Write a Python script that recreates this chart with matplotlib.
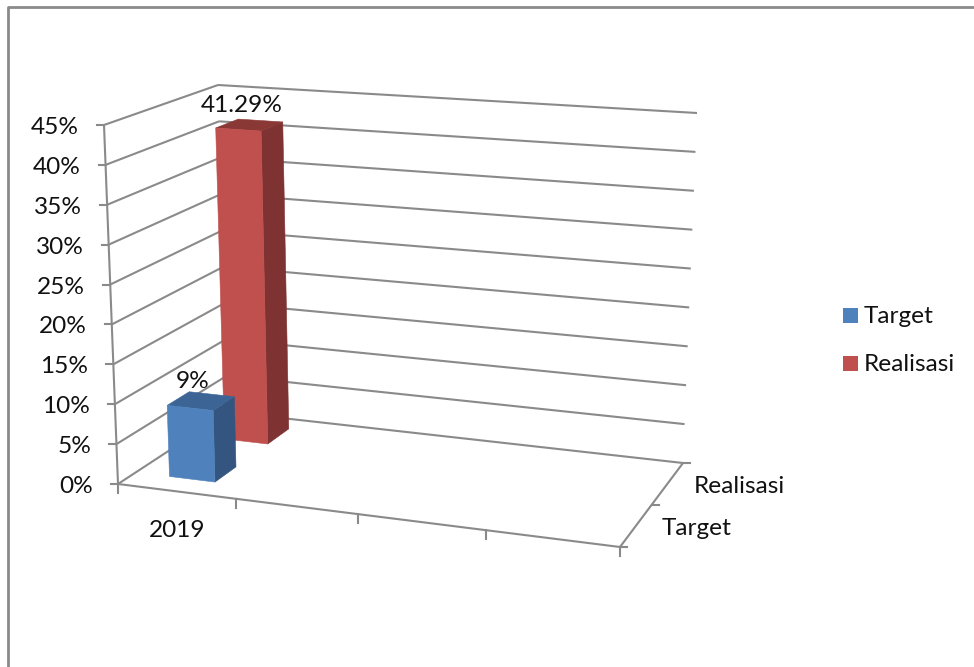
"""Excel-style 3-D column chart of Target vs Realisasi for 2019."""

from __future__ import annotations

import matplotlib

matplotlib.use("Agg")
import matplotlib.pyplot as plt
import numpy as np
from matplotlib.patches import Polygon, Rectangle

CATEGORY_LABELS = ["2019"]
CATEGORY_TICKS = [0.235, 0.478, 0.733, 1.0]
SERIES_NAMES = ["Target", "Realisasi"]
SERIES_VALUES = [9, 41.29]
VALUE_TICKS = [0, 5, 10, 15, 20, 25, 30, 35, 40, 45]

BAR_CENTER = 0.114
BAR_WIDTH = 0.092
BAR_DEPTH = 0.205
SERIES_DEPTHS = [0.265, 0.78]

FRONT_COLORS = ["#4f81bd", "#c0504d"]
SIDE_COLORS = ["#34557f", "#7e3231"]
TOP_COLORS = ["#3c6595", "#893835"]
AXIS_COLOR = "#8a8a8a"
TEXT_COLOR = "#111111"
FONT_SIZE = 17.6

# Pixel positions of the plot box corners, (width, depth) -> (floor, ceiling)
CORNERS = {
    (0, 0): ((118, 484), (104, 125)),
    (1, 0): ((620, 547), (634, 164)),
    (0, 1): ((228, 412), (218, 85)),
    (1, 1): ((683, 463), (697, 113)),
}


def project(x: float, d: float, v: float) -> tuple[float, float]:
    """Map width fraction, depth fraction and percent value onto the canvas."""
    t = v / VALUE_TICKS[-1]
    out = np.zeros(2)
    for (cx, cd), (floor, ceil) in CORNERS.items():
        weight = (x if cx else 1 - x) * (d if cd else 1 - d)
        out += weight * ((1 - t) * np.array(floor) + t * np.array(ceil))
    return float(out[0]), float(out[1])


def line3d(ax: plt.Axes, a: tuple, b: tuple, lw: float = 1.5) -> None:
    p, q = project(*a), project(*b)
    ax.plot([p[0], q[0]], [p[1], q[1]], color=AXIS_COLOR, lw=lw, solid_capstyle="butt", zorder=2)


def draw_bar(ax: plt.Axes, idx: int) -> None:
    value = SERIES_VALUES[idx]
    x0, x1 = BAR_CENTER - BAR_WIDTH / 2, BAR_CENTER + BAR_WIDTH / 2
    d0, d1 = SERIES_DEPTHS[idx] - BAR_DEPTH / 2, SERIES_DEPTHS[idx] + BAR_DEPTH / 2
    zorder = 6 - idx

    front = [project(x0, d0, 0), project(x1, d0, 0), project(x1, d0, value), project(x0, d0, value)]
    side = [project(x1, d0, 0), project(x1, d1, 0), project(x1, d1, value), project(x1, d0, value)]
    top = [project(x0, d0, value), project(x1, d0, value), project(x1, d1, value), project(x0, d1, value)]
    for pts, color in ((side, SIDE_COLORS[idx]), (top, TOP_COLORS[idx]), (front, FRONT_COLORS[idx])):
        ax.add_patch(Polygon(pts, closed=True, fc=color, ec=color, lw=0.4, zorder=zorder))

    label_x, label_y = project(BAR_CENTER, SERIES_DEPTHS[idx], value)
    ax.text(label_x - 8, label_y - 20, f"{value:g}%", ha="center", va="center",
            fontsize=FONT_SIZE, color=TEXT_COLOR, zorder=8)


def main() -> int:
    plt.rcParams["font.family"] = ["Lato", "DejaVu Sans"]
    fig = plt.figure(figsize=(9.74, 6.67), dpi=100, facecolor="white")
    ax = fig.add_axes([0, 0, 1, 1])
    ax.set_xlim(0, 974)
    ax.set_ylim(667, 0)
    ax.axis("off")

    # Chart area border, open on the right and at the bottom
    ax.plot([8, 8, 974], [667, 7, 7], color=AXIS_COLOR, lw=2.0, zorder=1)

    # Side wall and back wall gridlines
    for v in VALUE_TICKS:
        if v > 0:
            line3d(ax, (0, 0, v), (0, 1, v))
            line3d(ax, (0, 1, v), (1, 1, v))
        px, py = project(0, 0, v)
        ax.plot([px - 7, px], [py, py], color=AXIS_COLOR, lw=1.5, zorder=2)
        ax.text(px - 25, py + 2.5, f"{v}%", ha="right", va="center", fontsize=FONT_SIZE, color=TEXT_COLOR)

    # Floor outline and axes
    line3d(ax, (0, 0, 0), (0, 0, VALUE_TICKS[-1]))
    line3d(ax, (0, 0, 0), (1, 0, 0))
    line3d(ax, (0, 0, 0), (0, 1, 0))
    line3d(ax, (0, 1, 0), (1, 1, 0))
    line3d(ax, (1, 0, 0), (1, 1, 0))

    for x in [0.0, *CATEGORY_TICKS]:
        px, py = project(x, 0, 0)
        ax.plot([px, px], [py, py + 9], color=AXIS_COLOR, lw=1.5, zorder=2)
    for d in (0.0, 0.5, 1.0):
        px, py = project(1, d, 0)
        ax.plot([px, px + 7], [py, py], color=AXIS_COLOR, lw=1.5, zorder=2)

    # Axis labels
    cat_x, cat_y = project(CATEGORY_TICKS[0] / 2, 0, 0)
    ax.text(cat_x, cat_y + 39, CATEGORY_LABELS[0], ha="center", va="center",
            fontsize=FONT_SIZE, color=TEXT_COLOR)
    for name, d in zip(SERIES_NAMES, (0.25, 0.75)):
        px, py = project(1, d, 0)
        ax.text(px + 26, py + 2.5, name, ha="left", va="center", fontsize=FONT_SIZE, color=TEXT_COLOR)

    for idx in range(len(SERIES_VALUES)):
        draw_bar(ax, idx)

    # Legend
    for idx, (name, y) in enumerate(zip(SERIES_NAMES, (308, 356))):
        ax.add_patch(Rectangle((843, y), 15, 15, fc=FRONT_COLORS[idx], ec="none", zorder=5))
        ax.text(864, y + 8.5, name, ha="left", va="center", fontsize=FONT_SIZE, color=TEXT_COLOR)

    fig.savefig("out.png", dpi=100, facecolor="white")
    plt.close(fig)
    return 0


if __name__ == "__main__":
    raise SystemExit(main())
